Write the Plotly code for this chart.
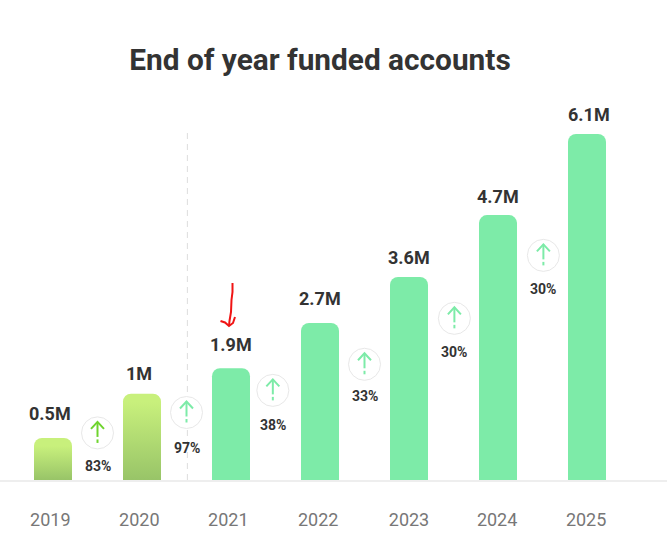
import plotly.graph_objects as go

years = [2019, 2020, 2021, 2022, 2023, 2024, 2025]
# drawn heights (the first two bars are not to scale with their labels)
bar_heights = [0.74, 1.52, 1.97, 2.77, 3.58, 4.67, 6.1]
bar_labels = ["0.5M", "1M", "1.9M", "2.7M", "3.6M", "4.7M", "6.1M"]
growth_labels = ["83%", "97%", "38%", "33%", "30%", "30%"]

# badge placement between the bars
badge_x = [2019.5, 2020.5, 2021.47, 2022.5, 2023.51, 2024.51]
badge_y = [0.83, 1.19, 1.58, 2.04, 2.85, 3.96]
label_y = [0.24, 0.57, 0.97, 1.48, 2.26, 3.37]

# the labels in the picture are not quite centred on their bars
value_xshift = [-3, -3, 0, 0, 0, 0, 2]
value_yshift = [12, 8, 11, 12, 7, 6, 7]
tick_positions = [2018.97, 2019.97, 2020.97, 2021.98, 2023, 2023.99, 2024.99]

PX_PER_UNIT = 346 / 6.1
BAR_WIDTH = 38 / 89
BAR_GREEN = "#7DEBA8"
OLD_TOP = "#C8F07C"
OLD_BOTTOM = "#98C468"
ARROW_OLD = "#6FD42E"
TEXT = "#333333"
FONT = "Roboto"

fig = go.Figure()

fig.add_trace(
    go.Bar(
        x=years,
        y=bar_heights,
        width=BAR_WIDTH,
        marker=dict(color=[OLD_TOP, OLD_TOP] + [BAR_GREEN] * 5, line=dict(width=0)),
        hoverinfo="skip",
    )
)

# gradient body for the first two bars, the rounded cap comes from the bar below it
for year, height in zip(years[:2], bar_heights[:2]):
    x0 = year - BAR_WIDTH / 2
    x1 = year + BAR_WIDTH / 2
    top = height - 8 / PX_PER_UNIT
    fig.add_trace(
        go.Scatter(
            x=[x0, x1, x1, x0, x0],
            y=[0, 0, top, top, 0],
            mode="lines",
            line=dict(width=0),
            fill="toself",
            fillgradient=dict(
                type="vertical",
                colorscale=[[0, OLD_BOTTOM], [1, OLD_TOP]],
            ),
            hoverinfo="skip",
        )
    )

# badge circles
fig.add_trace(
    go.Scatter(
        x=badge_x,
        y=badge_y,
        mode="markers",
        marker=dict(size=32, color="white", line=dict(color="#E8E8E8", width=1)),
        hoverinfo="skip",
    )
)

shapes = []

# divider between 2020 and 2021
shapes.append(
    dict(
        type="line",
        x0=2020.51,
        x1=2020.51,
        y0=0,
        y1=348 / PX_PER_UNIT,
        line=dict(color="#DDDDDD", width=1, dash="6px,5px"),
        layer="below",
    )
)

# arrow icons, pixel offsets from the badge centre
for i, (bx, by) in enumerate(zip(badge_x, badge_y)):
    color = ARROW_OLD if i == 0 else BAR_GREEN
    for path in ["M -6.5 4 L 0 11 L 6.5 4", "M 0 11 L 0 -4", "M 0 -6.5 L 0 -10"]:
        shapes.append(
            dict(
                type="path",
                xsizemode="pixel",
                ysizemode="pixel",
                xanchor=bx,
                yanchor=by,
                path=path,
                line=dict(color=color, width=2),
            )
        )

# red hand drawn arrow over 2021
for path in [
    "M 1.5 43 L 1.5 34 L 0.5 26 L 0 14 L -1.5 5 L -2 0",
    "M -10.5 5 L -6 3.5 L -2 0 L 2 3 L 4 9",
]:
    shapes.append(
        dict(
            type="path",
            xsizemode="pixel",
            ysizemode="pixel",
            xanchor=2021,
            yanchor=154 / PX_PER_UNIT,
            path=path,
            line=dict(color="#F01414", width=2),
        )
    )

annotations = []
for year, height, label, dx, dy in zip(years, bar_heights, bar_labels, value_xshift, value_yshift):
    annotations.append(
        dict(
            x=year,
            y=height,
            text=f"<b>{label}</b>",
            showarrow=False,
            yanchor="bottom",
            xshift=dx,
            yshift=dy,
            font=dict(family=FONT, size=18, color=TEXT),
        )
    )
for bx, ly, label in zip(badge_x, label_y, growth_labels):
    annotations.append(
        dict(
            x=bx,
            y=ly,
            text=f"<b>{label}</b>",
            showarrow=False,
            yanchor="middle",
            font=dict(family=FONT, size=14, color=TEXT),
        )
    )

fig.update_layout(
    width=667,
    height=552,
    margin=dict(l=0, r=0, t=0, b=72),
    paper_bgcolor="white",
    plot_bgcolor="white",
    showlegend=False,
    title=dict(
        text="<b>End of year funded accounts</b>",
        x=320 / 667,
        xanchor="center",
        y=1 - 60 / 552,
        yanchor="middle",
        font=dict(family=FONT, size=29.8, color=TEXT),
    ),
    barcornerradius=8,
    xaxis=dict(
        range=[2019 - 53 / 89, 2019 + 614 / 89],
        tickmode="array",
        tickvals=tick_positions,
        ticktext=[str(y) for y in years],
        tickfont=dict(family=FONT, size=18, color="#777777"),
        ticks="",
        ticklabelstandoff=22,
        showgrid=False,
        zeroline=False,
        showline=True,
        linecolor="#EEEEEE",
        linewidth=2,
    ),
    yaxis=dict(
        range=[0, 480 / PX_PER_UNIT],
        visible=False,
        showgrid=False,
        zeroline=False,
    ),
    shapes=shapes,
    annotations=annotations,
)

# the page's default body margin would push the chart 8px off
fig.write_html(
    "out.html",
    config=dict(displayModeBar=False),
    post_script="document.body.style.margin = '0';",
)
